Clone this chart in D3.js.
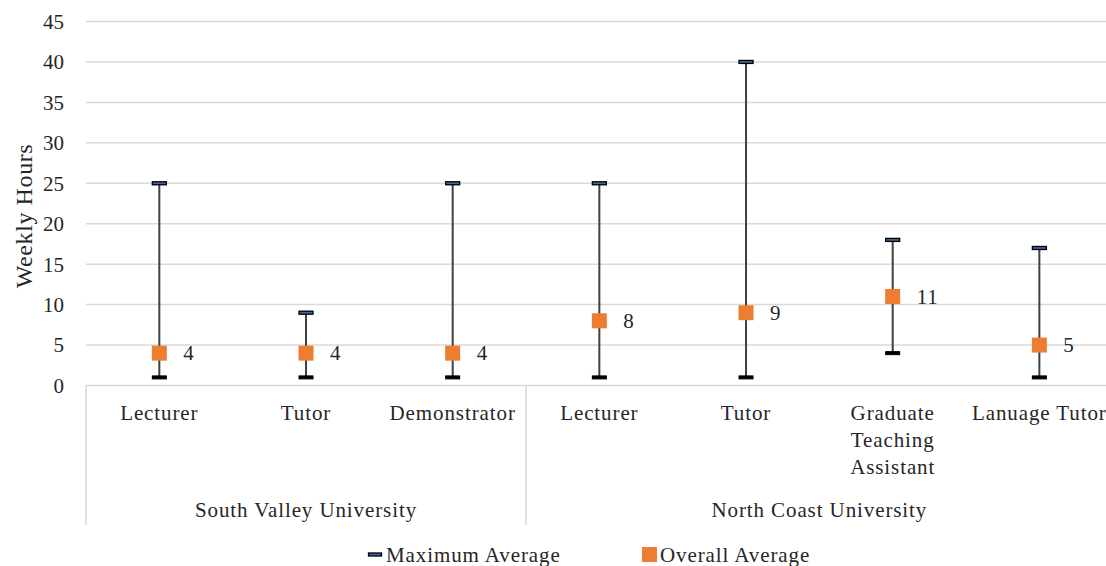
<!DOCTYPE html>
<html><head><meta charset="utf-8">
<script src="https://cdn.jsdelivr.net/npm/d3@7"></script>
<style>
html,body{margin:0;padding:0;background:#fff;}
svg{display:block;font-family:"Liberation Serif","DejaVu Serif",serif;}
</style></head>
<body><svg id="c" width="1106" height="566"></svg>
<script>
const categories = ["Lecturer","Tutor","Demonstrator","Lecturer","Tutor","Graduate Teaching Assistant","Lanuage Tutor"];
const categoryLines = [["Lecturer"],["Tutor"],["Demonstrator"],["Lecturer"],["Tutor"],["Graduate","Teaching","Assistant"],["Lanuage Tutor"]];
const groups = ["South Valley University","North Coast University"];
const groupSizes = [3,4];
const maxAverage = [25,9,25,25,40,18,17];
const minimum = [1,1,1,1,1,4,1];
const overallAverage = [4,4,4,8,9,11,5];
const yTicks = [0,5,10,15,20,25,30,35,40,45];

const svg = d3.select("#c");
const pL = 86, pR = 1112.7, pT = 21.5, pB = 385.5;
const x = d3.scaleBand().domain(d3.range(categories.length)).range([pL, pR]).padding(0);
const y = d3.scaleLinear().domain([0,45]).range([pB, pT]);
const grid = "#D9D9D9", txt = "#262626";
const FS = 21, LS = "0.9px";

// gridlines
svg.append("g").selectAll("line").data(yTicks.filter(d=>d>0)).join("line")
  .attr("x1", pL).attr("x2", pR).attr("y1", d=>y(d)).attr("y2", d=>y(d))
  .attr("stroke", grid).attr("stroke-width", 1.5);

// y axis labels
const yAxis = d3.axisLeft(y).tickValues(yTicks).tickSize(0).tickPadding(0);
const ga = svg.append("g").attr("transform", `translate(${64},0)`).call(yAxis);
ga.select(".domain").remove();
ga.selectAll("text").attr("font-family","Liberation Serif").attr("font-size",FS).attr("fill",txt).attr("dy","0.33em");

// y title
svg.append("text").attr("transform", `translate(32,216) rotate(-90)`).attr("text-anchor","middle")
  .attr("font-size",24).attr("letter-spacing","0.6px").attr("fill",txt).text("Weekly Hours");

// axis box
svg.append("line").attr("x1",pL).attr("x2",pR).attr("y1",pB).attr("y2",pB).attr("stroke",grid).attr("stroke-width",1.5);
let cum = 0;
const boundaries = [0];
groupSizes.forEach(s=>{cum+=s; boundaries.push(cum);});
svg.append("g").selectAll("line").data(boundaries.slice(0, -1)).join("line")
  .attr("x1", d=>x(d)).attr("x2", d=>x(d)).attr("y1", pB).attr("y2", 525)
  .attr("stroke", grid).attr("stroke-width", 1.5);

// category labels
const cl = svg.append("g").selectAll("text").data(categoryLines).join("text")
  .attr("x",(d,i)=>x(i)+x.bandwidth()/2).attr("y",420).attr("text-anchor","middle")
  .attr("font-size",FS).attr("letter-spacing",LS).attr("fill",txt);
cl.selectAll("tspan").data(d=>d).join("tspan")
  .attr("x", function(){return this.parentNode.getAttribute("x");})
  .attr("dy",(d,i)=>i===0?0:27).text(d=>d);

// group labels
svg.append("g").selectAll("text").data(groups).join("text")
  .attr("x",(d,i)=>(x(boundaries[i]) + x(boundaries[i+1]-1)+x.bandwidth())/2)
  .attr("y",517).attr("text-anchor","middle").attr("font-size",FS).attr("letter-spacing",LS).attr("fill",txt).text(d=>d);

// hi-lo lines
const cx = i => x(i)+x.bandwidth()/2;
svg.append("g").selectAll("line").data(categories).join("line")
  .attr("x1",(d,i)=>cx(i)).attr("x2",(d,i)=>cx(i))
  .attr("y1",(d,i)=>y(minimum[i])).attr("y2",(d,i)=>y(maxAverage[i]))
  .attr("stroke","#404040").attr("stroke-width",2);

// min markers
svg.append("g").selectAll("rect").data(minimum).join("rect")
  .attr("x",(d,i)=>cx(i)-7).attr("y",d=>y(d)-1.5).attr("width",14).attr("height",3)
  .attr("fill","#000").attr("stroke","#000").attr("stroke-width",1);

// max markers
svg.append("g").selectAll("rect").data(maxAverage).join("rect")
  .attr("x",(d,i)=>cx(i)-7).attr("y",d=>y(d)-1.5).attr("width",14).attr("height",3)
  .attr("fill","#3E6A9E").attr("stroke","#000").attr("stroke-width",1.3);

// overall markers
svg.append("g").selectAll("rect").data(overallAverage).join("rect")
  .attr("x",(d,i)=>cx(i)-7.5).attr("y",d=>y(d)-7.5).attr("width",15).attr("height",15)
  .attr("fill","#ED7D31");

// data labels
svg.append("g").selectAll("text").data(overallAverage).join("text")
  .attr("x",(d,i)=>cx(i)+24).attr("y",d=>y(d)).attr("dy","0.35em")
  .attr("font-size",FS).attr("letter-spacing",LS).attr("fill",txt).text(d=>d);

// legend
const lg = svg.append("g");
lg.append("rect").attr("x",368.5).attr("y",553).attr("width",13).attr("height",3)
  .attr("fill","#3E6A9E").attr("stroke","#000").attr("stroke-width",1.3);
lg.append("text").attr("x",386).attr("y",562).attr("font-size",FS).attr("letter-spacing",LS).attr("fill",txt).text("Maximum Average");
lg.append("rect").attr("x",642).attr("y",547).attr("width",15).attr("height",15).attr("fill","#ED7D31");
lg.append("text").attr("x",660).attr("y",562).attr("font-size",FS).attr("letter-spacing",LS).attr("fill",txt).text("Overall Average");
</script></body></html>
